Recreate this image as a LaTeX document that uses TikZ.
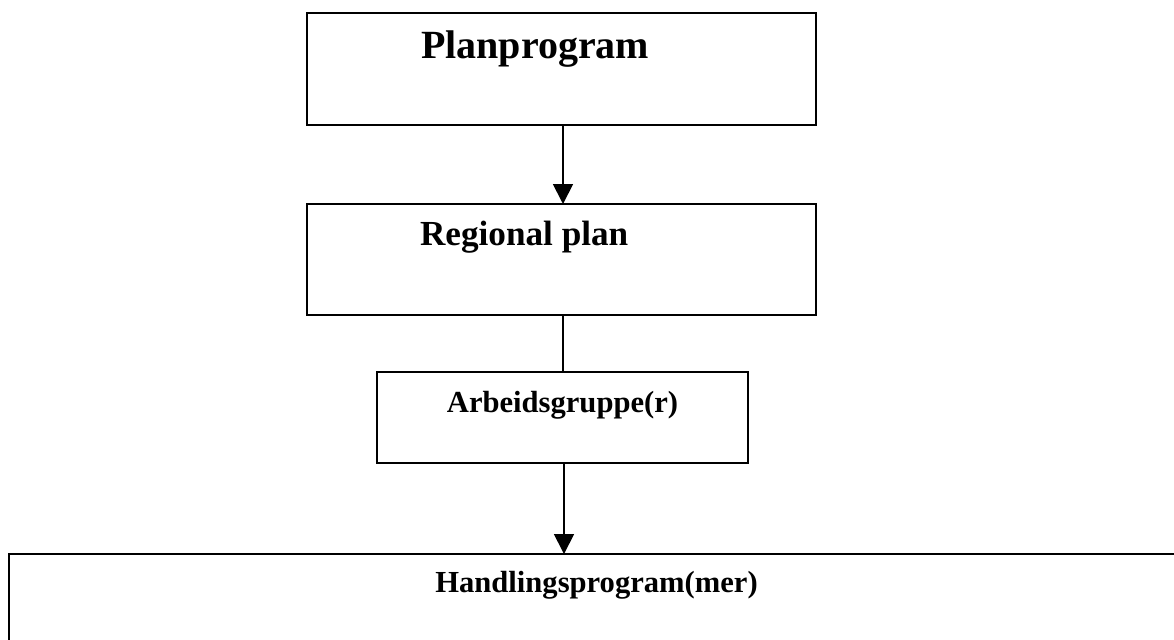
\documentclass[tikz,border=0pt]{standalone}
\usepackage{fontspec}
\setmainfont{Liberation Serif}
\usetikzlibrary{arrows.meta}
\begin{document}
\begin{tikzpicture}[x=0.5pt,y=-0.5pt,
  box/.style={draw=black, line width=1pt, inner sep=0pt, outer sep=0pt},
  lbl/.style={inner sep=0pt, outer sep=0pt},
  conn/.style={draw=black, line width=0.9pt},
  arr/.style={conn, -{Triangle[width=10pt,length=10pt]}}]
\useasboundingbox (0,0) rectangle (1174,639);
\clip (0,0) rectangle (1174,639);
% boxes
\node[box, minimum width=254.5pt, minimum height=56pt] (b1) at (561.5,69) {};
\node[box, minimum width=254.5pt, minimum height=55.5pt] (b2) at (561.5,259.5) {};
\node[box, minimum width=185.5pt, minimum height=45.5pt] (b3) at (562.5,417.5) {};
\node[box, minimum width=587.5pt, minimum height=58pt] (b4) at (596.5,612) {};
% labels
\node[lbl, anchor=base west, font=\bfseries\fontsize{20}{24}\selectfont] (t1) at (421,58) {Planprogram};
\node[lbl, anchor=base west, font=\bfseries\fontsize{17.6}{21}\selectfont] (t2) at (420,245) {Regional plan};
\node[lbl, anchor=base, font=\bfseries\fontsize{15.3}{18}\selectfont] (t3) at (562.5,412) {Arbeidsgruppe(r)};
\node[lbl, anchor=base, font=\bfseries\fontsize{15.3}{18}\selectfont] (t4) at (596.5,592) {Handlingsprogram(mer)};
% connectors
\draw[arr] ([xshift=0.75pt]b1.south) -- ([xshift=0.75pt]b2.north);
\draw[conn] ([xshift=0.75pt]b2.south) -- ([xshift=0.25pt]b3.north);
\draw[arr] ([xshift=0.75pt]b3.south) -- ([xshift=-16.25pt]b4.north);
\end{tikzpicture}
\end{document}
